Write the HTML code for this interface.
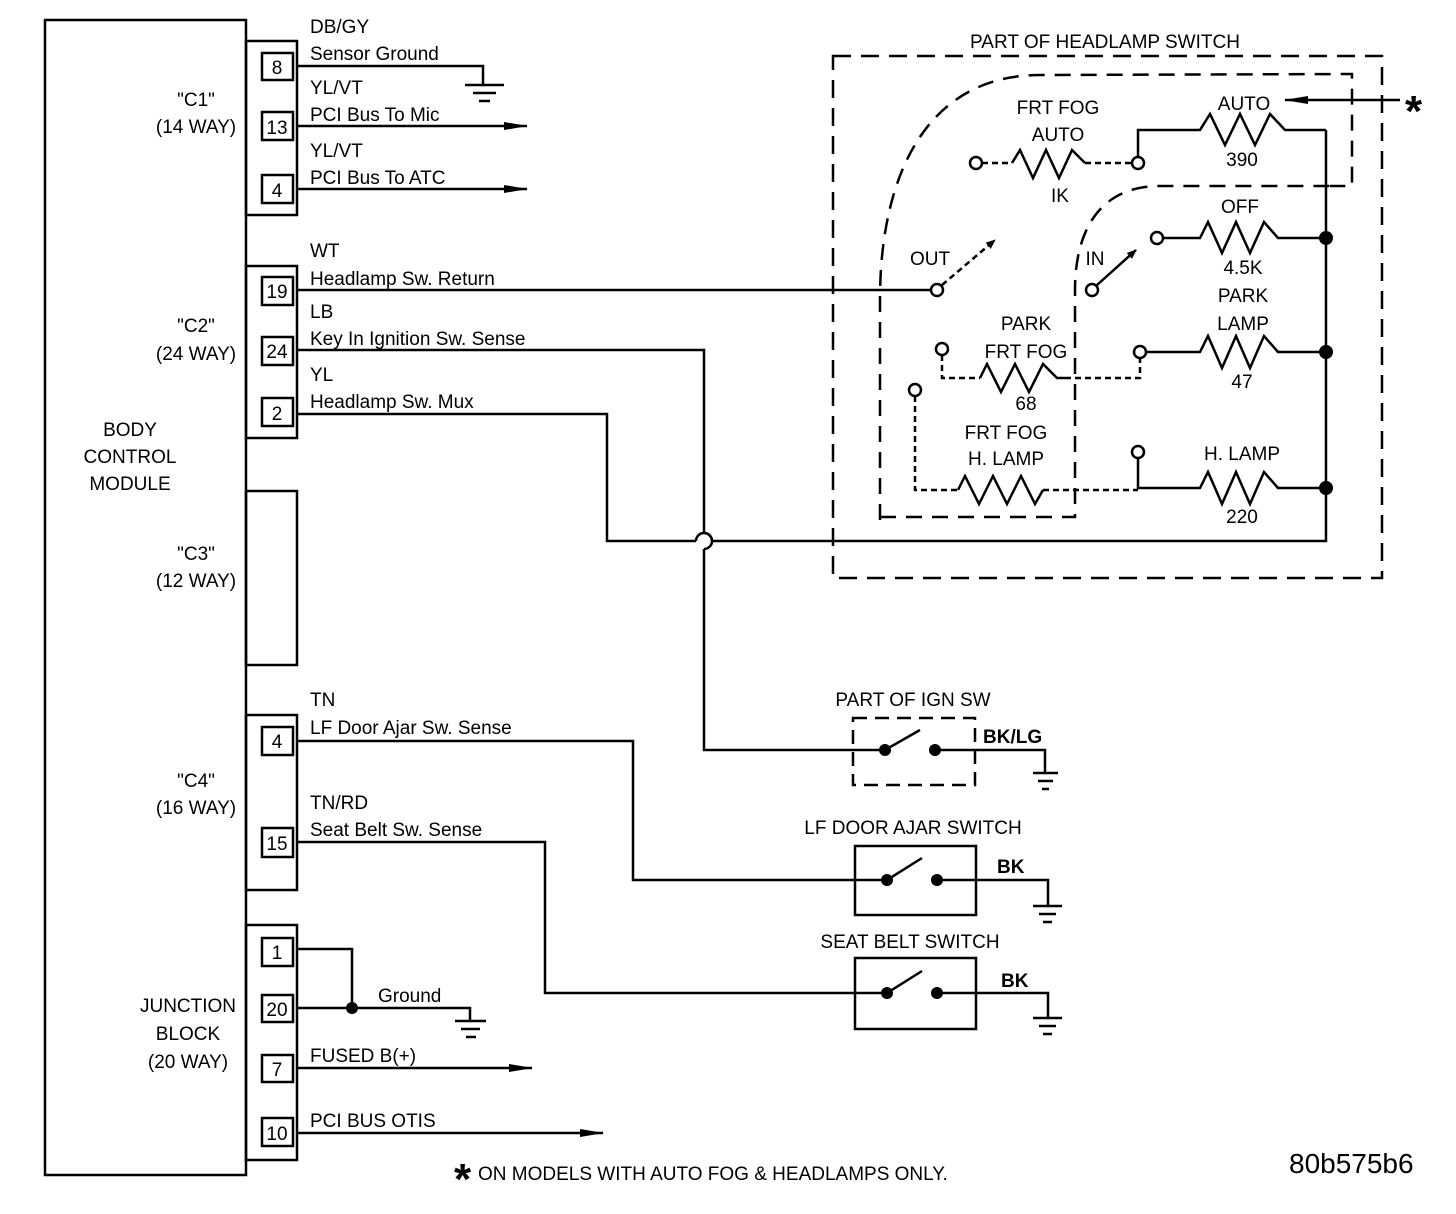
<!DOCTYPE html>
<html><head><meta charset="utf-8"><style>
html,body{margin:0;padding:0;background:#fff;}
svg{display:block;}
text{font-family:"Liberation Sans Narrow","Liberation Sans",sans-serif;fill:#000;font-size:19px;}
</style></head><body>
<svg width="1456" height="1214" viewBox="0 0 1456 1214" xmlns="http://www.w3.org/2000/svg">
<defs>
<marker id="ar" markerWidth="10" markerHeight="8" refX="9" refY="4" orient="auto" markerUnits="userSpaceOnUse"><path d="M0,0 L10,4 L0,8 z"/></marker>
<marker id="ar2" markerWidth="24" markerHeight="10" refX="23" refY="5" orient="auto" markerUnits="userSpaceOnUse"><path d="M0,1 L24,5 L0,9 z"/></marker>
</defs>
<g fill="none" stroke="#000" stroke-width="2.5">
<rect x="45" y="20" width="201" height="1155"/>
<rect x="246" y="41" width="51" height="174"/>
<rect x="246" y="266" width="51" height="172"/>
<rect x="246" y="491" width="51" height="174"/>
<rect x="246" y="715" width="51" height="175"/>
<rect x="246" y="925" width="51" height="235"/>
<rect x="262" y="53" width="31" height="27"/>
<rect x="262" y="112" width="31" height="28"/>
<rect x="262" y="175" width="31" height="28"/>
<rect x="262" y="277" width="31" height="28"/>
<rect x="262" y="337" width="31" height="28"/>
<rect x="262" y="398" width="31" height="28"/>
<rect x="262" y="727" width="31" height="28"/>
<rect x="262" y="828" width="31" height="29"/>
<rect x="262" y="938" width="31" height="28"/>
<rect x="262" y="995" width="31" height="27"/>
<rect x="262" y="1055" width="31" height="27"/>
<rect x="262" y="1118" width="31" height="28"/>
<polyline points="297,66 483,66 483,84"/>
<line x1="465" y1="85" x2="504" y2="85"/><line x1="473" y1="93" x2="496" y2="93"/><line x1="479" y1="101" x2="490" y2="101"/>
<line x1="297" y1="126" x2="527" y2="126" marker-end="url(#ar2)"/>
<line x1="297" y1="189" x2="527" y2="189" marker-end="url(#ar2)"/>
<line x1="297" y1="290" x2="937" y2="290"/>
<polyline points="297,350 704,350 704,533"/>
<path d="M704,533 A8,8 0 0 1 704,549"/>
<polyline points="704,549 704,750 883,750"/>
<polyline points="297,414 607,414 607,541 696,541"/>
<path d="M696,541 A8,8 0 0 1 712,541"/>
<polyline points="712,541 1326,541 1326,130"/>
<polyline points="297,741 633,741 633,880 887,880"/>
<polyline points="297,842 545,842 545,993 887,993"/>
<polyline points="297,949 352,949 352,1008"/>
<polyline points="297,1008 470,1008 470,1020"/>
<line x1="455" y1="1021" x2="486" y2="1021"/><line x1="461" y1="1029" x2="480" y2="1029"/><line x1="466" y1="1037" x2="476" y2="1037"/>
<line x1="297" y1="1068" x2="532" y2="1068" marker-end="url(#ar2)"/>
<line x1="297" y1="1133" x2="603" y2="1133" marker-end="url(#ar2)"/>
<rect x="853" y="718" width="122" height="67" stroke-dasharray="14,8"/>
<line x1="885" y1="750" x2="920" y2="730"/>
<polyline points="935,750 1045,750 1045,772"/>
<line x1="1033" y1="773" x2="1058" y2="773"/><line x1="1038" y1="781" x2="1053" y2="781"/><line x1="1042" y1="789" x2="1049" y2="789"/>
<rect x="855" y="846" width="121" height="69"/>
<line x1="887" y1="880" x2="922" y2="858"/>
<polyline points="937,880 1048,880 1048,905"/>
<line x1="1033" y1="906" x2="1062" y2="906"/><line x1="1039" y1="914" x2="1056" y2="914"/><line x1="1043" y1="922" x2="1052" y2="922"/>
<rect x="855" y="958" width="121" height="71"/>
<line x1="887" y1="993" x2="922" y2="971"/>
<polyline points="937,993 1048,993 1048,1017"/>
<line x1="1033" y1="1018" x2="1062" y2="1018"/><line x1="1039" y1="1026" x2="1056" y2="1026"/><line x1="1043" y1="1034" x2="1052" y2="1034"/>
<rect x="833" y="56" width="549" height="522" stroke-dasharray="18,10"/>
<path d="M880,520 L880,300 C880,170 930,75 1040,75 L1352,74 L1352,186 L1330,186" stroke-dasharray="16,10"/>
<path d="M880,517 L1075,517 L1075,290 C1075,230 1100,186 1160,186 L1330,186" stroke-dasharray="16,10"/>
<polyline points="1138,160 1138,130 1200,130 1210,114 1225,145 1240,114 1255,145 1270,114 1285,130 1326,130"/>
<polyline points="982,163 1012,163" stroke-dasharray="6,4"/>
<polyline points="1012,163 1020,150 1033,178 1046,150 1059,178 1072,150 1085,163"/>
<polyline points="1085,163 1133,163" stroke-dasharray="6,4"/>
<polyline points="1162,238 1200,238 1208,222 1222,253 1236,222 1250,253 1264,222 1278,238 1326,238"/>
<polyline points="1145,352 1200,352 1208,336 1222,368 1236,336 1250,368 1264,336 1278,352 1326,352"/>
<polyline points="1140,357 1140,378 1065,378" stroke-dasharray="6,4"/>
<polyline points="942,355 942,378 980,378" stroke-dasharray="6,4"/>
<polyline points="980,378 987,364 1001,392 1015,364 1029,392 1043,364 1057,378 1065,378"/>
<polyline points="1138,458 1138,488 1200,488 1208,472 1222,504 1236,472 1250,504 1264,472 1278,488 1326,488"/>
<polyline points="915,396 915,490 958,490" stroke-dasharray="6,4"/>
<polyline points="958,490 965,476 979,504 993,476 1007,504 1021,476 1035,504 1043,490"/>
<polyline points="1043,490 1138,490" stroke-dasharray="6,4"/>
<line x1="942" y1="285" x2="995" y2="240" stroke-dasharray="6,4" marker-end="url(#ar)"/>
<line x1="1097" y1="285" x2="1136" y2="250" marker-end="url(#ar)"/>
<line x1="1400" y1="100" x2="1285" y2="100" marker-end="url(#ar2)"/>
</g>
<g fill="#fff" stroke="#000" stroke-width="2.5">
<circle cx="937" cy="290" r="6"/><circle cx="1092" cy="290" r="6"/>
<circle cx="1157" cy="238" r="6"/><circle cx="1140" cy="352" r="6"/>
<circle cx="1138" cy="452" r="6"/><circle cx="942" cy="349" r="6"/>
<circle cx="915" cy="390" r="6"/><circle cx="1138" cy="163" r="6"/>
<circle cx="976" cy="163" r="6"/>
</g>
<g fill="#000">
<circle cx="1326" cy="238" r="7"/><circle cx="1326" cy="352" r="7"/><circle cx="1326" cy="488" r="7"/>
<circle cx="352" cy="1008" r="6"/>
<circle cx="885" cy="750" r="6"/><circle cx="935" cy="750" r="6"/>
<circle cx="887" cy="880" r="6"/><circle cx="937" cy="880" r="6"/>
<circle cx="887" cy="993" r="6"/><circle cx="937" cy="993" r="6"/>
</g>
<g text-anchor="middle">
<text x="277" y="74">8</text><text x="277" y="134">13</text><text x="277" y="197">4</text>
<text x="277" y="298">19</text><text x="277" y="358">24</text><text x="277" y="420">2</text>
<text x="277" y="748">4</text><text x="277" y="850">15</text>
<text x="277" y="959">1</text><text x="277" y="1016">20</text><text x="277" y="1076">7</text><text x="277" y="1140">10</text>
<text x="196" y="106">"C1"</text><text x="196" y="133">(14 WAY)</text>
<text x="196" y="332">"C2"</text><text x="196" y="360">(24 WAY)</text>
<text x="130" y="436">BODY</text><text x="130" y="463">CONTROL</text><text x="130" y="490">MODULE</text>
<text x="196" y="560">"C3"</text><text x="196" y="587">(12 WAY)</text>
<text x="196" y="787">"C4"</text><text x="196" y="814">(16 WAY)</text>
<text x="188" y="1012">JUNCTION</text><text x="188" y="1040">BLOCK</text><text x="188" y="1068">(20 WAY)</text>
<text x="1105" y="48">PART OF HEADLAMP SWITCH</text>
<text x="1058" y="114">FRT FOG</text><text x="1058" y="141">AUTO</text><text x="1060" y="202">IK</text>
<text x="1244" y="110">AUTO</text><text x="1242" y="166">390</text>
<text x="1240" y="213">OFF</text><text x="1243" y="274">4.5K</text>
<text x="1243" y="302">PARK</text><text x="1243" y="330">LAMP</text><text x="1242" y="388">47</text>
<text x="1026" y="330">PARK</text><text x="1026" y="358">FRT FOG</text><text x="1026" y="410">68</text>
<text x="1006" y="439">FRT FOG</text><text x="1006" y="465">H. LAMP</text>
<text x="1242" y="460">H. LAMP</text><text x="1242" y="523">220</text>
<text x="930" y="265">OUT</text><text x="1095" y="265">IN</text>
<text x="913" y="706">PART OF IGN SW</text>
<text x="913" y="834">LF DOOR AJAR SWITCH</text>
<text x="910" y="948">SEAT BELT SWITCH</text>
</g>
<text x="310" y="33">DB/GY</text><text x="310" y="60">Sensor Ground</text>
<text x="310" y="94">YL/VT</text><text x="310" y="121">PCI Bus To Mic</text>
<text x="310" y="157">YL/VT</text><text x="310" y="184">PCI Bus To ATC</text>
<text x="310" y="257">WT</text><text x="310" y="285">Headlamp Sw. Return</text>
<text x="310" y="318">LB</text><text x="310" y="345">Key In Ignition Sw. Sense</text>
<text x="310" y="381">YL</text><text x="310" y="408">Headlamp Sw. Mux</text>
<text x="310" y="706">TN</text><text x="310" y="734">LF Door Ajar Sw. Sense</text>
<text x="310" y="809">TN/RD</text><text x="310" y="836">Seat Belt Sw. Sense</text>
<text x="378" y="1002">Ground</text>
<text x="310" y="1062">FUSED B(+)</text>
<text x="310" y="1127">PCI BUS OTIS</text>
<text x="983" y="743" font-weight="bold">BK/LG</text>
<text x="997" y="873" font-weight="bold">BK</text>
<text x="1001" y="987" font-weight="bold">BK</text>
<text x="1405" y="126" style="font-size:44px;font-weight:bold">*</text>
<text x="454" y="1194" style="font-size:44px;font-weight:bold">*</text>
<text x="478" y="1180" style="font-size:19px">ON MODELS WITH AUTO FOG &amp; HEADLAMPS ONLY.</text>
<text x="1289" y="1173" style="font-size:28px">80b575b6</text>
</svg>
</body></html>
